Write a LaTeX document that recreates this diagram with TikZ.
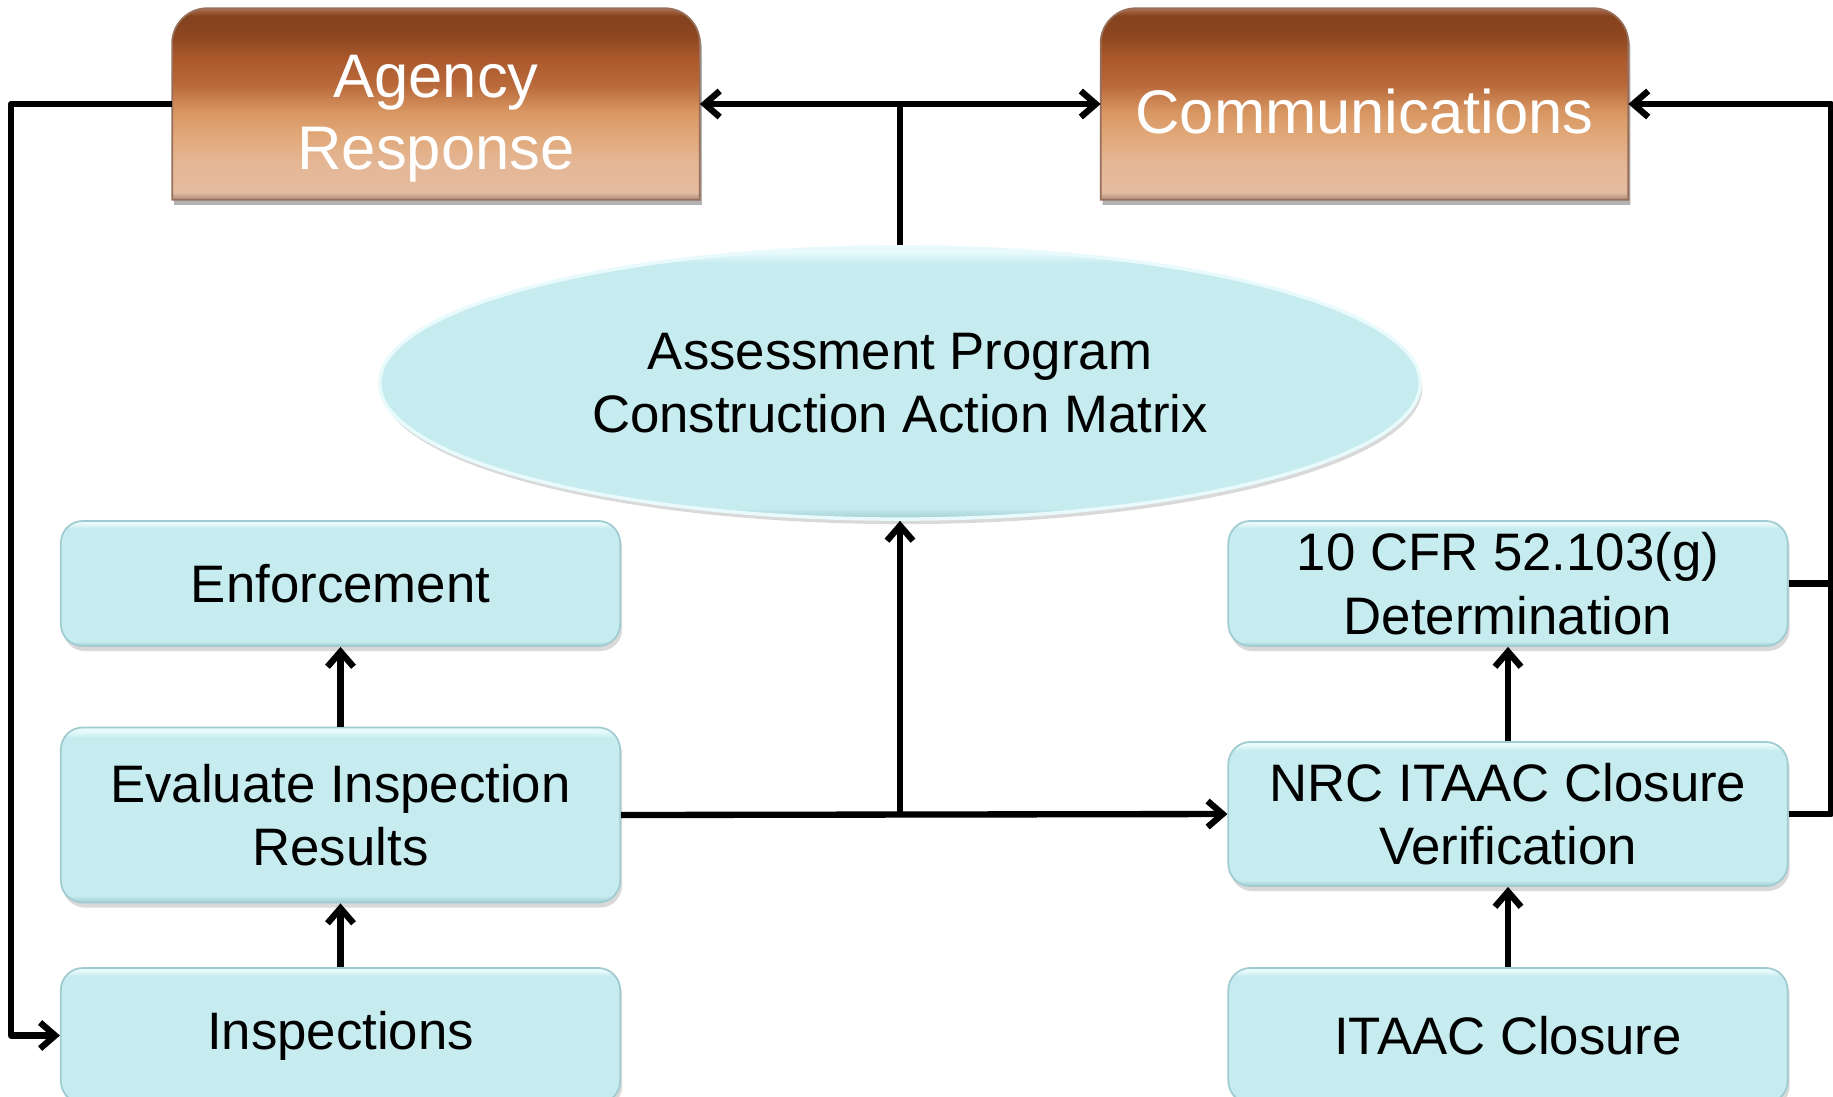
\documentclass[tikz,border=0pt]{standalone}
\usepackage{fontspec}
\setmainfont{Liberation Sans}
\usetikzlibrary{arrows.meta,shapes.geometric,shadows,backgrounds}
\definecolor{cyanfill}{RGB}{198,236,239}
\definecolor{cyanlite}{RGB}{232,250,252}
\definecolor{cyanedge}{RGB}{160,204,209}
\definecolor{brownedge}{RGB}{150,110,90}
\pgfdeclareverticalshading{brownfade}{100bp}{color(0bp)=(brownedge!80!white); color(25bp)=(brownedge!80!white);
	color(27bp)=(rgb,255:red,228;green,188;blue,160); color(35bp)=(rgb,255:red,228;green,182;blue,148);
	color(42bp)=(rgb,255:red,225;green,168;blue,120); color(48bp)=(rgb,255:red,215;green,150;blue,98);
	color(55bp)=(rgb,255:red,185;green,105;blue,58); color(62bp)=(rgb,255:red,170;green,88;blue,44);
	color(68bp)=(rgb,255:red,140;green,70;blue,32); color(73bp)=(rgb,255:red,132;green,66;blue,30);
	color(75bp)=(rgb,255:red,176;green,112;blue,80); color(100bp)=(rgb,255:red,176;green,112;blue,80)}
\pgfdeclareverticalshading{cyanfade}{100bp}{color(0bp)=(cyanedge); color(25bp)=(cyanedge);
	color(27bp)=(cyanfill); color(72bp)=(cyanfill); color(74bp)=(cyanlite); color(100bp)=(cyanlite)}
% sets a line a little lower without changing its box
\newcommand{\drop}[2]{\raisebox{-#1}[\height][\depth]{#2}}
\begin{document}
\begin{tikzpicture}[x=0.01cm,y=-0.01cm, line join=round,
		>={Straight Barb[length=0.15cm,width=0.26cm]},
		link/.style={line width=1.8pt},
		cbox/.style={rectangle, rounded corners=0.22cm, shading=cyanfade, draw=cyanedge, line width=0.5pt,
			drop shadow={shadow xshift=0.02cm,shadow yshift=-0.05cm,opacity=0.3},
			minimum width=5.59cm, align=center, inner sep=0pt, font=\fontsize{15}{18}\selectfont},
		bbox/.style={rectangle, minimum width=5.26cm, minimum height=1.9cm, inner sep=0pt, align=center,
			text=white, font=\fontsize{17.5}{20.5}\selectfont}]
	\useasboundingbox (0,0) rectangle (1833,1096);

	% top row
	\node[bbox] (ar) at (436,104) {\drop{0.145cm}{Agency}\\\drop{0.145cm}{Response}};
	\node[bbox] (com) at (1364.5,104) {\drop{0.07cm}{Communications}};
	\begin{scope}[on background layer]
		\foreach \b in {ar,com}{
			\fill[black,opacity=0.3] ([shift={(0.02cm,-0.05cm)}]\b.south west) -- ([shift={(0.02cm,-0.4cm)}]\b.north west)
				arc[start angle=180,end angle=90,radius=0.35cm] -- ([shift={(-0.33cm,-0.05cm)}]\b.north east)
				arc[start angle=90,end angle=0,radius=0.35cm] -- ([shift={(0.02cm,-0.05cm)}]\b.south east) -- cycle;
			\shade[shading=brownfade, draw=brownedge, line width=0.5pt] (\b.south west) -- ([yshift=-0.35cm]\b.north west)
				arc[start angle=180,end angle=90,radius=0.35cm] -- ([xshift=-0.35cm]\b.north east)
				arc[start angle=90,end angle=0,radius=0.35cm] -- (\b.south east) -- cycle;
		}
	\end{scope}

	% centre ellipse
	\node[ellipse, shading=cyanfade, draw=cyanlite, line width=1pt, minimum width=10.4cm, minimum height=2.72cm,
		drop shadow={shadow xshift=0.02cm,shadow yshift=-0.05cm,opacity=0.3},
		align=center, inner sep=0pt, font=\fontsize{15}{18}\selectfont] (apm) at (900,383)
		{Assessment Program\\Construction Action Matrix};

	% left column
	\node[cbox, minimum height=1.25cm] (enf) at (340.5,583.5) {Enforcement};
	\node[cbox, minimum height=1.75cm] (eval) at (340.5,815) {Evaluate Inspection\\Results};
	\node[cbox, minimum height=1.35cm] (insp) at (340.5,1035.5) {Inspections};

	% right column
	\node[cbox, minimum height=1.25cm] (cfr) at (1508,583.5) {10 CFR 52.103(g)\\Determination};
	\node[cbox, minimum height=1.44cm] (nrc) at (1508,814) {NRC ITAAC Closure\\Verification};
	\node[cbox, minimum height=1.35cm] (itc) at (1508,1035.5) {ITAAC Closure};

	\coordinate (top) at (apm.north |- ar.east);
	\coordinate (rgt) at (1831,104);

	\draw[link,->] (ar.west) -- ++(-1.61cm,0) |- (insp.west);
	\draw[link] (apm.north) -- (top);
	\draw[link,->] (top) -- (ar.east);
	\draw[link,->] (top) -- (com.west);
	\draw[link,->] (nrc.east) -| (rgt) -- (com.east);
	\draw[link] (cfr.east) -- (cfr.east -| rgt);
	\draw[link,->] (eval.east) -- (nrc.west);
	\draw[link,->] (eval.east -| apm.south) -- (apm.south);
	\draw[link,->] (eval) -- (enf);
	\draw[link,->] (insp) -- (eval);
	\draw[link,->] (nrc) -- (cfr);
	\draw[link,->] (itc) -- (nrc);
\end{tikzpicture}
\end{document}
